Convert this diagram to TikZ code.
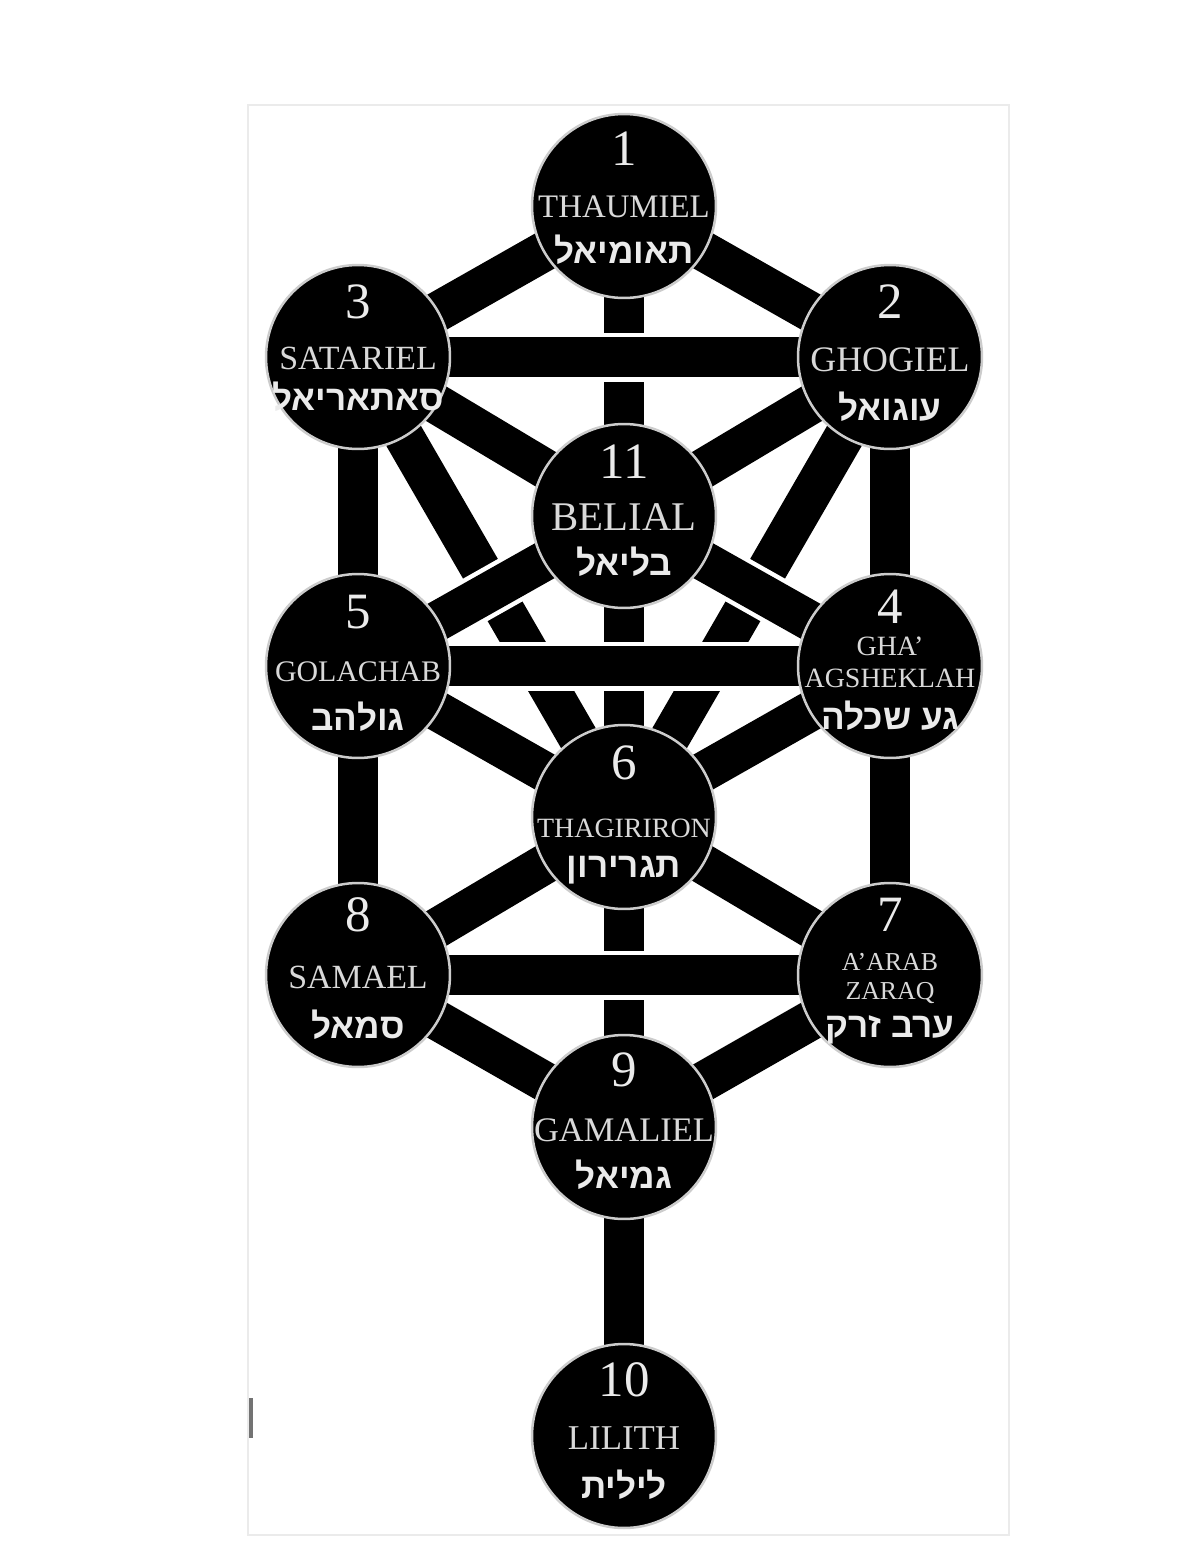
\documentclass[tikz,border=0pt]{standalone}
\usepackage{fontspec}
\setmainfont{Liberation Serif}
\newfontfamily\hebfont[Script=Hebrew]{Liberation Sans}
\TeXXeTstate=1
\usetikzlibrary{calc}
\newcommand\hebtxt[1]{{\hebfont\bfseries\beginR #1\endR}}
\newcommand\fsz[1]{\fontsize{#1}{#1}\selectfont}
\tikzset{
  bar/.style={draw=black, line width=0.8cm, preaction={draw=white, line width=0.98cm}},
  sephira/.style={circle, fill=black, draw=white!80!black, line width=0.05cm, minimum size=3.68cm, inner sep=0},
  numlab/.style={text=white!92!black, inner sep=0, font=\fsz{29pt}},
  namelab/.style={text=white!85!black, inner sep=0},
  heblab/.style={text=white!92!black, inner sep=0, font=\fsz{20pt}\hebfont\bfseries},
}
\begin{document}
\begin{tikzpicture}[x=0.02cm, y=-0.02cm]
\useasboundingbox (0,0) rectangle (1200,1552);
\fill[white] (0,0) rectangle (1200,1552);
\draw[black!8, line width=0.04cm] (248,105) rectangle (1009,1535);
\draw[black!55, line width=0.08cm] (251,1398) -- (251,1438);

\coordinate (c1) at (624,206);
\coordinate (c2) at (890,357);
\coordinate (c3) at (358,357);
\coordinate (c11) at (624,516);
\coordinate (c4) at (890,666);
\coordinate (c5) at (358,666);
\coordinate (c6) at (624,817);
\coordinate (c7) at (890,975);
\coordinate (c8) at (358,975);
\coordinate (c9) at (624,1127);
\coordinate (c10) at (624,1436);

% connectors (order sets overlaps)
\draw[bar] (c1) -- (c11);
\draw[bar] (c11) -- (c6);
\draw[bar] (c6) -- (c9);
\draw[bar] (c9) -- (c10);
\draw[bar] (c3) -- (c5);
\draw[bar] (c5) -- (c8);
\draw[bar] (c2) -- (c4);
\draw[bar] (c4) -- (c7);
\draw[bar] (c1) -- (c3);
\draw[bar] (c1) -- (c2);
\draw[bar] (c3) -- (c11);
\draw[bar] (c2) -- (c11);
\draw[bar] (c3) -- (c6);
\draw[bar] (c2) -- (c6);
\draw[bar] (c11) -- (c5);
\draw[bar] (c11) -- (c4);
\draw[bar] (c5) -- (c6);
\draw[bar] (c4) -- (c6);
\draw[bar] (c6) -- (c8);
\draw[bar] (c6) -- (c7);
\draw[bar] (c8) -- (c9);
\draw[bar] (c7) -- (c9);
\draw[bar] (c3) -- (c2);
\draw[bar] (c5) -- (c4);
\draw[bar] (c8) -- (c7);

% circles
\foreach \n in {1,2,3,11,4,5,6,7,8,9,10} {\node[sephira] (n\n) at (c\n) {};}

% 1
\node[numlab] (t1) at ($(c1)+(0,-57)$) {1};
\node[namelab, font=\fsz{18.7pt}] (m1) at ($(c1)+(0,1)$) {THAUMIEL};
\node[heblab] (h1) at ($(c1)+(0,44)$) {\hebtxt{תאומיאל}};
% 3
\node[numlab] (t3) at ($(c3)+(0,-55)$) {3};
\node[namelab, font=\fsz{19.3pt}] (m3) at ($(c3)+(0,1)$) {SATARIEL};
\node[heblab] (h3) at ($(c3)+(0,40)$) {\hebtxt{סאתאריאל}};
% 2
\node[numlab] (t2) at ($(c2)+(0,-55)$) {2};
\node[namelab, font=\fsz{20.4pt}] (m2) at ($(c2)+(0,3)$) {GHOGIEL};
\node[heblab] (h2) at ($(c2)+(0,50)$) {\hebtxt{עוגואל}};
% 11
\node[numlab] (t11) at ($(c11)+(0,-54)$) {11};
\node[namelab, font=\fsz{23.2pt}] (m11) at ($(c11)+(0,1)$) {BELIAL};
\node[heblab] (h11) at ($(c11)+(0,46)$) {\hebtxt{בליאל}};
% 5
\node[numlab] (t5) at ($(c5)+(0,-54)$) {5};
\node[namelab, font=\fsz{17pt}] (m5) at ($(c5)+(0,6)$) {GOLACHAB};
\node[heblab] (h5) at ($(c5)+(0,51)$) {\hebtxt{גולהב}};
% 4
\node[numlab] (t4) at ($(c4)+(0,-59)$) {4};
\node[namelab, font=\fsz{15.9pt}] (m4a) at ($(c4)+(0,-20)$) {GHA’};
\node[namelab, font=\fsz{15.9pt}] (m4b) at ($(c4)+(0,12)$) {AGSHEKLAH};
\node[heblab] (h4) at ($(c4)+(0,50)$) {\hebtxt{גע שכלה}};
% 6
\node[numlab] (t6) at ($(c6)+(0,-54)$) {6};
\node[namelab, font=\fsz{15.9pt}] (m6) at ($(c6)+(0,11)$) {THAGIRIRON};
\node[heblab] (h6) at ($(c6)+(0,53)$) {\hebtxt{תגרירון}};
% 8
\node[numlab] (t8) at ($(c8)+(0,-60)$) {8};
\node[namelab, font=\fsz{19.3pt}] (m8) at ($(c8)+(0,2)$) {SAMAEL};
\node[heblab] (h8) at ($(c8)+(0,50)$) {\hebtxt{סמאל}};
% 7
\node[numlab] (t7) at ($(c7)+(0,-60)$) {7};
\node[namelab, font=\fsz{14.7pt}] (m7a) at ($(c7)+(0,-13)$) {A’ARAB};
\node[namelab, font=\fsz{14.7pt}] (m7b) at ($(c7)+(0,18)$) {ZARAQ};
\node[heblab] (h7) at ($(c7)+(0,55)$) {\hebtxt{ערב זרק}};
% 9
\node[numlab] (t9) at ($(c9)+(0,-57)$) {9};
\node[namelab, font=\fsz{19.6pt}] (m9) at ($(c9)+(0,3)$) {GAMALIEL};
\node[heblab] (h9) at ($(c9)+(0,48)$) {\hebtxt{גמיאל}};
% 10
\node[numlab] (t10) at ($(c10)+(0,-56)$) {10};
\node[namelab, font=\fsz{19.8pt}] (m10) at ($(c10)+(0,2)$) {LILITH};
\node[heblab] (h10) at ($(c10)+(0,49)$) {\hebtxt{לילית}};
\end{tikzpicture}
\end{document}
